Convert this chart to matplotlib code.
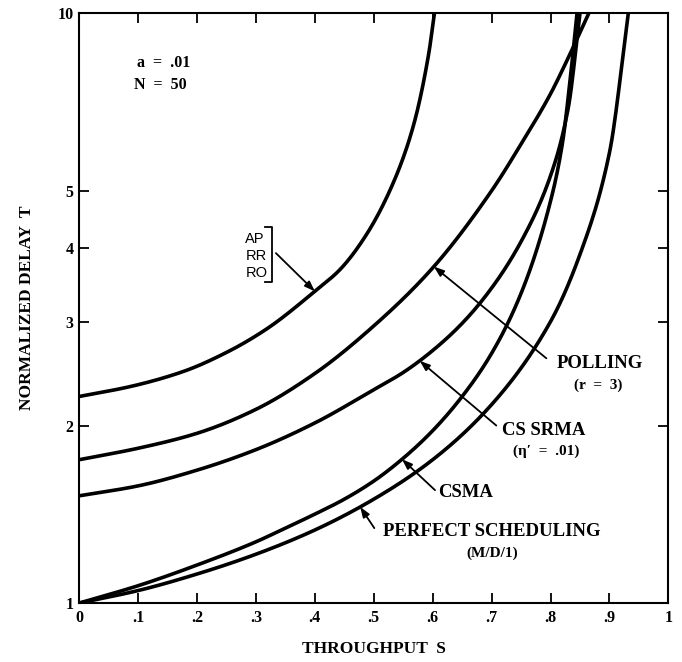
import numpy as np
import matplotlib
matplotlib.use("Agg")
import matplotlib.pyplot as plt

# Throughput S and normalized delay T for each access scheme (a = .01, N = 50)
ap_s = [0, 0.088, 0.177, 0.25, 0.317, 0.405, 0.442, 0.486, 0.531, 0.567, 0.593, 0.603]
ap_t = [2.24, 2.33, 2.47, 2.66, 2.91, 3.41, 3.67, 4.19, 5.1, 6.43, 8.5, 10.0]

polling_s = [0, 0.1, 0.2, 0.3, 0.4, 0.5, 0.6, 0.7, 0.75, 0.8, 0.83, 0.865]
polling_t = [1.75, 1.83, 1.94, 2.13, 2.45, 2.95, 3.7, 5.0, 6.0, 7.3, 8.4, 10.0]

srma_s = [0, 0.1, 0.2, 0.3, 0.4, 0.5, 0.55, 0.6, 0.65, 0.7, 0.75, 0.8, 0.83, 0.85]
srma_t = [1.52, 1.58, 1.68, 1.82, 2.02, 2.3, 2.46, 2.68, 2.98, 3.42, 4.1, 5.3, 6.9, 10.0]

csma_s = [0, 0.1, 0.2, 0.3, 0.35, 0.4, 0.45, 0.5, 0.55, 0.6, 0.65, 0.7, 0.75, 0.8,
          0.82, 0.835, 0.845]
csma_t = [1.0, 1.07, 1.16, 1.27, 1.34, 1.415, 1.5, 1.61, 1.76, 1.96, 2.24, 2.65, 3.35, 4.8,
          6.0, 8.0, 10.0]

ps_s = [0, 0.1, 0.2, 0.3, 0.4, 0.5, 0.6, 0.7, 0.8, 0.85, 0.9, 0.932]
ps_t = [1.0, 1.05, 1.12, 1.21, 1.33, 1.5, 1.75, 2.17, 3.0, 3.9, 5.8, 10.0]

x_ticks = [0, 0.1, 0.2, 0.3, 0.4, 0.5, 0.6, 0.7, 0.8, 0.9, 1.0]
x_tick_labels = ["0", ".1", ".2", ".3", ".4", ".5", ".6", ".7", ".8", ".9", "1"]
y_ticks = [1, 2, 3, 4, 5, 10]
y_tick_labels = ["1", "2", "3", "4", "5", "10"]

serif = "Liberation Serif"
sans = "Liberation Sans"


def smooth(s, t, n=400):
    """Shape-preserving cubic interpolation of a curve in (S, log T)."""
    s = np.asarray(s, float)
    lt = np.log10(np.asarray(t, float))
    xs = np.linspace(s[0], s[-1], n)
    h = np.diff(s)
    d = np.diff(lt) / h
    m = np.zeros_like(lt)
    m[0], m[-1] = d[0], d[-1]
    for i in range(1, len(s) - 1):
        if d[i - 1] * d[i] <= 0:
            m[i] = 0
        else:
            w1 = 2 * h[i] + h[i - 1]
            w2 = h[i] + 2 * h[i - 1]
            m[i] = (w1 + w2) / (w1 / d[i - 1] + w2 / d[i])
    idx = np.clip(np.searchsorted(s, xs) - 1, 0, len(s) - 2)
    x0, x1 = s[idx], s[idx + 1]
    hh = x1 - x0
    u = (xs - x0) / hh
    h00 = 2 * u**3 - 3 * u**2 + 1
    h10 = u**3 - 2 * u**2 + u
    h01 = -2 * u**3 + 3 * u**2
    h11 = u**3 - u**2
    ys = h00 * lt[idx] + h10 * hh * m[idx] + h01 * lt[idx + 1] + h11 * hh * m[idx + 1]
    return xs, 10 ** ys


def value_at(s, t, x):
    xs, ys = smooth(s, t)
    return float(10 ** np.interp(x, xs, np.log10(ys)))


fig = plt.figure(figsize=(6.82, 6.62), dpi=100)
ax = fig.add_axes([0.116, 0.089, 0.864, 0.891])

curves = [(ap_s, ap_t), (polling_s, polling_t), (srma_s, srma_t),
          (csma_s, csma_t), (ps_s, ps_t)]
for s, t in curves:
    xs, ys = smooth(s, t)
    ax.plot(xs, ys, color="black", lw=2.6, solid_capstyle="butt")

ax.set_yscale("log")
ax.set_xlim(0, 1)
ax.set_ylim(1, 10)
ax.set_xticks(x_ticks)
ax.set_xticklabels(x_tick_labels)
ax.set_yticks(y_ticks)
ax.set_yticklabels(y_tick_labels)
ax.minorticks_off()
ax.tick_params(direction="in", length=7, width=1.3, top=True, right=True,
               labelsize=11.5, pad=5)
ax.tick_params(axis="y", pad=4)
for lab in ax.get_xticklabels() + ax.get_yticklabels():
    lab.set_fontfamily(serif)
    lab.set_fontweight("bold")
for sp in ax.spines.values():
    sp.set_linewidth(1.5)

ax.set_xlabel("THROUGHPUT  S", fontfamily=serif, fontweight="bold",
              fontsize=12.5, labelpad=11)
ax.set_ylabel("NORMALIZED DELAY  T", fontfamily=serif, fontweight="bold",
              fontsize=12.5, labelpad=16)

txt = dict(fontfamily=serif, fontweight="bold", ha="center", va="center")
ax.text(0.143, 8.23, "a  =  .01", fontsize=11.5, **txt)
ax.text(0.138, 7.55, "N  =  50", fontsize=11.5, **txt)

ax.text(0.883, 2.55, "POLLING", fontsize=13.5, **txt)
ax.text(0.881, 2.34, "(r  =  3)", fontsize=11, **txt)
ax.text(0.788, 1.965, "CS SRMA", fontsize=13.5, **txt)
ax.text(0.793, 1.81, "(η′  =  .01)", fontsize=11, **txt)
ax.text(0.655, 1.54, "CSMA", fontsize=13.5, **txt)
ax.text(0.70, 1.32, "PERFECT SCHEDULING", fontsize=13.5, **txt)
ax.text(0.701, 1.215, "(M/D/1)", fontsize=11, **txt)

for label, t in zip(["AP", "RR", "RO"], [4.14, 3.87, 3.63]):
    ax.text(0.282, t, label, fontfamily=sans, fontsize=10.5, ha="left", va="center")
ax.plot([0.316, 0.328, 0.328, 0.316], [4.34, 4.34, 3.50, 3.50],
        color="black", lw=1.3)

arrow = dict(arrowstyle="-|>,head_length=0.6,head_width=0.22", color="black",
             lw=1.3, shrinkA=0, shrinkB=0)
pointers = [
    (ap_s, ap_t, 0.40, (0.334, 3.92)),
    (polling_s, polling_t, 0.602, (0.793, 2.60)),
    (srma_s, srma_t, 0.578, (0.708, 2.00)),
    (csma_s, csma_t, 0.548, (0.604, 1.554)),
    (ps_s, ps_t, 0.477, (0.501, 1.34)),
]
for s, t, x_tip, tail in pointers:
    ax.annotate("", xy=(x_tip, value_at(s, t, x_tip)), xytext=tail,
                arrowprops=arrow)

fig.savefig("out.png", dpi=100)
